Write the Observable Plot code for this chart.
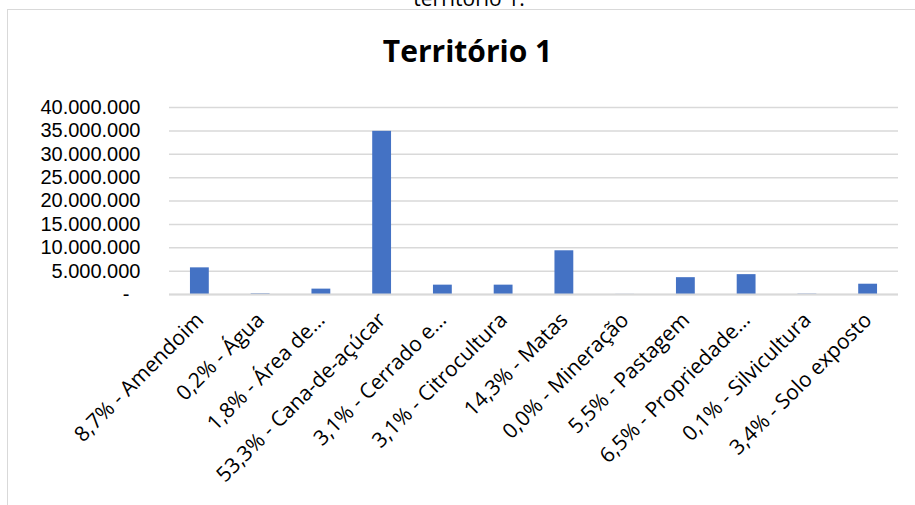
<!DOCTYPE html>
<html>
<head>
<meta charset="utf-8">
<script src="https://cdn.jsdelivr.net/npm/d3@7"></script>
<script src="https://cdn.jsdelivr.net/npm/@observablehq/plot@0.6"></script>
<style>
  html, body { margin: 0; padding: 0; background: #fff; }
  #wrap { position: relative; width: 915px; height: 505px; overflow: hidden; font-family: "Open Sans", sans-serif; }
  #frame { position: absolute; left: 7px; top: 9px; width: 1000px; height: 600px; border: 1.5px solid #d9d9d9; box-sizing: border-box; }
  #cut { position: absolute; left: 0; width: 938px; top: -16px; text-align: center; font-size: 21px; color: #000; line-height: 28px; }
  #title { position: absolute; left: 0; width: 935px; top: 31px; text-align: center; font-size: 30px; font-weight: 700; color: #000; line-height: 40px; }
  #chart { position: absolute; left: 0; top: 0; }
</style>
</head>
<body>
<div id="wrap">
  <div id="frame"></div>
  <div id="cut">território 1.</div>
  <div id="title">Território 1</div>
  <div id="chart"></div>
</div>
<script>
const categories = ["Amendoim", "Água", "Área de…", "Cana-de-açúcar", "Cerrado e…", "Citrocultura", "Matas", "Mineração", "Pastagem", "Propriedade…", "Silvicultura", "Solo exposto"];
const percents = ["8,7%", "0,2%", "1,8%", "53,3%", "3,1%", "3,1%", "14,3%", "0,0%", "5,5%", "6,5%", "0,1%", "3,4%"];
const values = [5700000, 130000, 1150000, 34900000, 2000000, 2000000, 9350000, 20000, 3600000, 4250000, 70000, 2200000];
const yTicks = [0, 5000000, 10000000, 15000000, 20000000, 25000000, 30000000, 35000000, 40000000];

const labels = categories.map((c, i) => `${percents[i]} - ${c}`);
const data = labels.map((l, i) => ({label: l, value: values[i]}));

const fmt = d => d === 0 ? "-\u2007" : d3.format(",")(d).replace(/,/g, ".");

const chart = Plot.plot({
  width: 915,
  height: 505,
  marginTop: 107,
  marginBottom: 211,
  marginLeft: 169,
  marginRight: 17,
  style: {fontFamily: "'Open Sans', sans-serif", fontSize: "21px", color: "#000", background: "transparent", overflow: "visible"},
  x: {domain: labels, paddingInner: 0.69, paddingOuter: 0.345, round: false, label: null},
  y: {domain: [0, 40000000], label: null},
  marks: [
    Plot.gridY(yTicks, {stroke: "#d9d9d9", strokeOpacity: 1, strokeWidth: 1.5}),
    Plot.barY(data, {x: "label", y: "value", fill: "#4472c4"}),
    Plot.ruleY([0], {stroke: "#d9d9d9", strokeWidth: 2.2}),
    Plot.axisY(yTicks, {tickSize: 0, tickPadding: 29, tickFormat: fmt, fontSize: 20, fontFamily: "'Liberation Sans', sans-serif", fill: "#000", style: "letter-spacing:0.8px"}),
    Plot.axisX({tickSize: 0, tickRotate: -45, tickPadding: 22, fontSize: 21, fill: "#000"})
  ]
});
document.getElementById("chart").appendChild(chart);
</script>
</body>
</html>
